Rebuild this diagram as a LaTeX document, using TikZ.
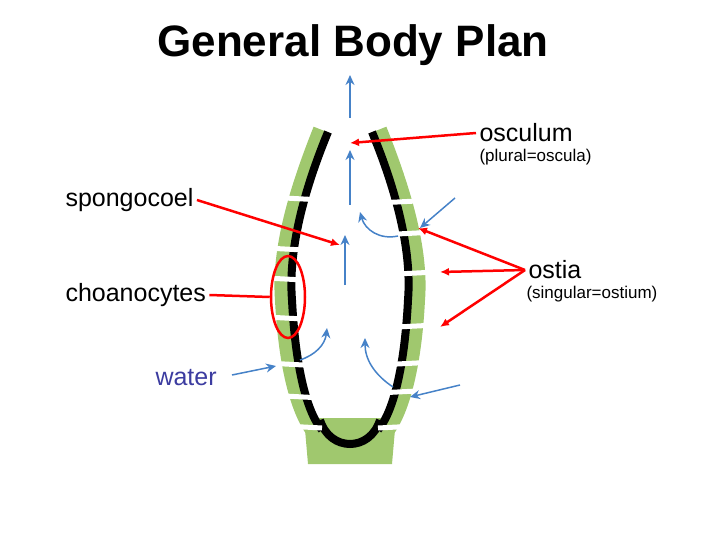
\documentclass[tikz,border=0pt]{standalone}
\usepackage{fontspec}
\setmainfont{Liberation Sans}
\usetikzlibrary{shapes.geometric,arrows.meta}
\tikzset{% default arrow tips
    >=latex
}
\definecolor{wallgreen}{RGB}{160,200,110}
\definecolor{flowblue}{RGB}{70,130,200}
\definecolor{waterblue}{RGB}{60,60,160}
\tikzset{
    wall/.style={draw=wallgreen, line width=18pt},
    lining/.style={draw=black, line width=8pt},
    gap/.style={draw=white, line width=5pt},
    flow/.style={-{Stealth[length=10pt,width=9pt]}, flowblue, line width=1.5pt},
    pointer/.style={-{Latex[length=9pt,width=8pt]}, red, line width=2.5pt},
    label/.style={anchor=west, font=\fontsize{25}{28}\selectfont},
    note/.style={anchor=west, font=\fontsize{17}{19}\selectfont}
}
\begin{document}
\begin{tikzpicture}[x=1pt, y=-1pt]
	    \useasboundingbox (0,0) rectangle (720,540);
	    
	    % title
	    \node (title) at (353,45) {\fontsize{44}{48}\selectfont\bfseries General Body Plan};
	    
	    % body wall
	    \draw[wall] (322,130) .. controls (298,190) and (280,250) .. (284,300) .. controls (287,360) and (298,410) .. (316,432);
	    \draw[wall] (378,130) .. controls (402,190) and (420,250) .. (416,300) .. controls (413,360) and (402,410) .. (384,432);
	    \fill[wallgreen] (304,418) -- (396,418) -- (392,464) -- (308,464) -- cycle;
	    \draw[lining] (328,132) .. controls (304,190) and (288,250) .. (292,300) .. controls (295,360) and (305,410) .. (322,430);
	    \draw[lining] (372,132) .. controls (396,190) and (412,250) .. (408,300) .. controls (405,360) and (395,410) .. (378,430);
	    \draw[lining] (320,420) .. controls (330,452) and (370,452) .. (380,420);
	    
	    % pores in the wall
	    \foreach \y in {197,248,278,317,363,395,425}
	        \draw[gap] (266,\y) -- (322,\y+3);
	    \foreach \y in {200,232,272,325,362,390,425}
	        \draw[gap] (378,\y+3) -- (436,\y);
	    
	    % water flow
	    \draw[flow] (350,118) -- (350,75);
	    \draw[flow] (350,205) -- (350,150);
	    \draw[flow] (345,285) -- (345,235);
	    \draw[flow] (455,198) -- (420,228);
	    \draw[flow] (398,236) .. controls (380,240) and (365,230) .. (360,212);
	    \draw[flow] (232,375) -- (276,366);
	    \draw[flow] (300,360) .. controls (315,355) and (325,345) .. (327,328);
	    \draw[flow] (460,385) -- (410,397);
	    \draw[flow] (393,387) .. controls (375,375) and (365,360) .. (365,338);
	    
	    % labels
	    \node[label] (osculum) at (476,133) {osculum};
	    \node[note] (plural) at (476,157) {(plural=oscula)};
	    \node[label] (spongocoel) at (62,200) {spongocoel};
	    \node[label] (choano) at (62,295) {choanocytes};
	    \node[label, text=waterblue] (water) at (152,378) {water};
	    \node[label] (ostia) at (525,270) {ostia};
	    \node[note] (singular) at (523,294) {(singular=ostium)};
	    
	    % pointers
	    \coordinate (oscTip) at (350,143);
	    \coordinate (cavity) at (340,245);
	    \coordinate (poreA) at (418,228);
	    \coordinate (poreB) at (440,272);
	    \coordinate (poreC) at (440,327);
	    \draw[pointer] (osculum.west) -- (oscTip);
	    \draw[pointer] (spongocoel.east) -- (cavity);
	    \draw[pointer] (ostia.west) -- (poreA);
	    \draw[pointer] (ostia.west) -- (poreB);
	    \draw[pointer] (ostia.west) -- (poreC);
	    \node[draw=red, line width=2.5pt, ellipse, minimum width=34pt, minimum height=82pt] (collar) at (288,297) {};
	    \draw[red, line width=2.5pt] (choano.east) -- (collar.west);
\end{tikzpicture}
\end{document}
